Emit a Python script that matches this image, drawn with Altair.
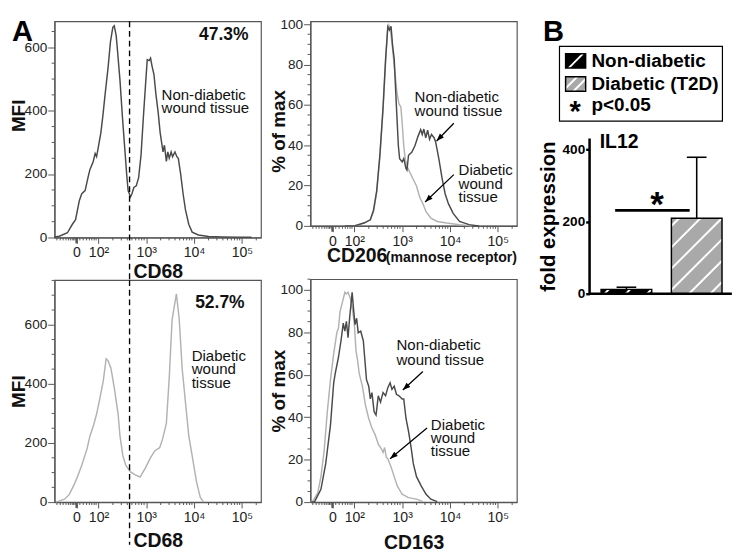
import math
import altair as alt
import pandas as pd

FONT = "Liberation Sans"
NARROW = "'Liberation Sans Narrow', 'Liberation Sans', sans-serif"
DARK = "#4a4a4a"
LIGHT = "#b2b2b2"
FRAME = "#555555"
INK = "#111111"

# ---------------- flow-cytometry x axis (biexponential display, 1 unit = 1 decade)
X_DOMAIN = [1.08, 5.40]
X_MAJOR = [1.54, 2, 3, 4, 5]
X_MAJOR_LABELS = ["0", "10²", "10³", "10⁴", "10⁵"]
X_MINOR_NEG = [1.13, 1.20, 1.26, 1.32, 1.37, 1.41, 1.45, 1.48, 1.51]
X_MINOR_LIN = [1.61, 1.68, 1.75, 1.81, 1.86, 1.91, 1.95]

# ---------------- CD68 histograms (MFI)
CD68_ND_D = [1.08, 1.18, 1.35, 1.45, 1.52, 1.60, 1.65, 1.72, 1.78, 1.82, 1.89, 1.93, 1.96, 1.99,
             2.05, 2.09, 2.14, 2.20, 2.25, 2.30, 2.33, 2.37, 2.40, 2.45, 2.50, 2.55, 2.59, 2.62,
             2.67, 2.70, 2.74, 2.79, 2.84, 2.89, 2.94, 2.99, 3.02, 3.06, 3.09, 3.12, 3.16, 3.20,
             3.25, 3.29, 3.33, 3.35, 3.38, 3.42, 3.45, 3.48, 3.52, 3.55, 3.60, 3.64, 3.67, 3.72,
             3.77, 3.82, 3.89, 3.96, 4.09, 4.30, 4.60, 4.90, 5.20]
CD68_ND_V = [2, 4, 15, 41, 56, 117, 138, 148, 189, 214, 240, 265, 255, 280,
             331, 382, 454, 535, 617, 663, 668, 637, 586, 495, 382, 280, 199, 148,
             128, 138, 158, 163, 189, 260, 382, 495, 561, 558, 566, 541, 515, 454,
             393, 331, 291, 270, 291, 240, 270, 250, 270, 255, 270, 255, 250, 199,
             138, 87, 41, 17, 8, 3, 2, 1, 1]
CD68_D_D = [1.11, 1.29, 1.39, 1.49, 1.55, 1.65, 1.76, 1.82, 1.90, 1.96, 2.02, 2.10, 2.16, 2.20,
            2.26, 2.33, 2.41, 2.45, 2.51, 2.57, 2.67, 2.77, 2.87, 2.98, 3.08, 3.18, 3.28, 3.34,
            3.42, 3.48, 3.54, 3.63, 3.69, 3.75, 3.83, 3.89, 3.95, 4.05, 4.13, 4.20]
CD68_D_V = [0, 10, 26, 59, 82, 125, 180, 223, 262, 298, 344, 410, 485, 479,
            453, 387, 298, 223, 157, 125, 102, 92, 85, 115, 148, 174, 184, 213,
            266, 420, 617, 705, 617, 453, 321, 223, 167, 69, 16, 0]

# ---------------- CD206 histograms (% of max)
CD206_ND_D = [1.8, 2.0, 2.2, 2.333, 2.4, 2.467, 2.533, 2.6, 2.653, 2.7, 2.733, 2.767, 2.8, 2.833,
              2.88, 2.92, 2.947, 3.0, 3.033, 3.08, 3.1, 3.133, 3.2, 3.267, 3.333, 3.387, 3.42,
              3.453, 3.493, 3.533, 3.573, 3.613, 3.667, 3.7, 3.767, 3.833, 3.9, 3.967, 4.067,
              4.2, 4.4, 4.6]
CD206_ND_V = [0, 0, 1.4, 3.0, 7.8, 17.4, 35, 58.9, 82.8, 98.7, 97.1, 99, 89.2, 82.8,
              58.9, 39.7, 33.3, 31.7, 33.3, 28.5, 27.7, 35, 36.5, 39.7, 44.5, 47.7, 45.3,
              48, 43.7, 47.4, 42.9, 45.3, 43.7, 41.6, 33.3, 23.8, 15.8, 11, 6.2,
              2.2, 0.6, 0]
CD206_D_D = [1.8, 2.0, 2.2, 2.333, 2.4, 2.467, 2.533, 2.6, 2.653, 2.693, 2.72, 2.753, 2.787, 2.833,
             2.887, 2.933, 2.973, 3.0, 3.033, 3.067, 3.12, 3.167, 3.233, 3.3, 3.367, 3.433, 3.5,
             3.6, 3.733, 3.933, 4.2, 4.467]
CD206_D_V = [0, 0, 1.4, 3.0, 7.0, 16.6, 34.1, 57.3, 81.2, 97.1, 99.5, 97.1, 90.7, 79.6,
             66.8, 60.4, 58.9, 50.9, 39.7, 32.5, 28.5, 26.2, 23, 19.8, 14.2, 11, 7,
             3.8, 2.2, 1.4, 0.6, 0]

# ---------------- CD163 histograms (% of max)
CD163_ND_D = [1.08, 1.167, 1.3, 1.4, 1.5, 1.567, 1.6, 1.667, 1.72, 1.767, 1.8, 1.833, 1.867, 1.9,
              1.953, 1.987, 2.013, 2.047, 2.08, 2.133, 2.187, 2.22, 2.253, 2.3, 2.333, 2.367,
              2.413, 2.453, 2.5, 2.547, 2.6, 2.653, 2.7, 2.747, 2.787, 2.833, 2.88, 2.933, 3.0,
              3.033, 3.08, 3.133, 3.187, 3.233, 3.3, 3.4, 3.5, 3.6, 3.733]
CD163_ND_V = [0, 0.2, 6, 18.1, 36.4, 56.2, 60.7, 68.3, 76, 84.3, 80.5, 85.1, 77.5, 86.6,
              98.8, 89.7, 83.6, 86.6, 79.8, 80.5, 76, 66.8, 57.7, 54.6, 48.6, 51.6,
              42.5, 41, 50.1, 47.1, 51.6, 50.1, 53.9, 56.2, 53.1, 54.6, 50.8, 50.1, 48.6,
              48.6, 39.4, 33.3, 25.7, 18.1, 12, 7.5, 3.7, 1.4, 0.2]
CD163_D_D = [1.08, 1.133, 1.233, 1.3, 1.367, 1.433, 1.5, 1.567, 1.633, 1.667, 1.7, 1.767, 1.8, 1.833,
             1.867, 1.92, 1.967, 2.0, 2.033, 2.067, 2.1, 2.167, 2.233, 2.3, 2.367, 2.433, 2.5,
             2.567, 2.6, 2.633, 2.667, 2.7, 2.767, 2.833, 2.9, 3.0, 3.133, 3.3, 3.433]
CD163_D_V = [0, 0.6, 4.4, 12, 24.2, 42.5, 57.7, 69.9, 79.8, 82, 89.7, 95.7, 98.8, 98,
             98.8, 95.7, 89.7, 83.6, 71.4, 66.8, 60.7, 54.6, 45.5, 39.4, 34.9, 31.8, 27.3,
             25, 23.4, 25.7, 21.2, 20.4, 16.6, 12, 7.5, 3.7, 2.1, 1.4, 0.2]

# ---------------- panel B: IL12 fold expression
B_GROUPS = ["Non-diabetic", "Diabetic (T2D)"]
B_MEAN = [12, 209]
B_UPPER = [18, 378]
B_SIG_LEVEL = 231

for a, b in [(CD68_ND_D, CD68_ND_V), (CD68_D_D, CD68_D_V), (CD206_ND_D, CD206_ND_V),
             (CD206_D_D, CD206_D_V), (CD163_ND_D, CD163_ND_V), (CD163_D_D, CD163_D_V)]:
    assert len(a) == len(b)

# ---------------- geometry
COL_W = 213
A1_H, A3_H = 223, 229
A2_H, A4_H = 211, 230
A1_MAX, A3_MAX, A2_MAX, A4_MAX = 682, 751, 101.4, 105
PXD = COL_W / (X_DOMAIN[1] - X_DOMAIN[0])

log_minor = [n + math.log10(k) for n in (2, 3, 4, 5) for k in range(2, 10)]
X_MINOR = sorted(set(X_MINOR_NEG + X_MINOR_LIN + [t for t in log_minor if t < X_DOMAIN[1]]))
X_LABEL_EXPR = "''"
for val, lab in reversed(list(zip(X_MAJOR, X_MAJOR_LABELS))):
    X_LABEL_EXPR = f"datum.value === {val} ? '{lab}' : ({X_LABEL_EXPR})"

ARROW = "M0,0L0.55,1.5L-0.55,1.5Z"


def xs():
    return alt.Scale(domain=X_DOMAIN, nice=False, zero=False)


def ys(ymax):
    return alt.Scale(domain=[0, ymax], nice=False, zero=False)


def X(field):
    return alt.X(f"{field}:Q", scale=xs())


def Y(field, ymax):
    return alt.Y(f"{field}:Q", scale=ys(ymax))


def hist_panel(curves, ymax, major, minor, height, ytitle, ytitle_x, xtitle=None, xtitle_y=None,
               ytitle_y=None, extras=()):
    xa = dict(values=X_MAJOR, labelExpr=X_LABEL_EXPR, grid=False, labelOverlap=False,
              labelFlush=False, tickSize=6, labelPadding=3, labelFontSize=14.5,
              labelColor="#222", labelFont=FONT, domainColor=FRAME, tickColor=FRAME,
              domainWidth=1.2)
    if xtitle:
        xa.update(title=xtitle, titleFontSize=20, titleFontWeight="bold", titleColor=INK,
                  titleBaseline="alphabetic", titleY=xtitle_y, titleFont=FONT)
    else:
        xa["title"] = None
    ya = dict(values=list(range(0, int(ymax) + 1, major)), grid=False, labelOverlap=False,
              tickSize=7, labelPadding=1, labelFontSize=14, labelColor="#222",
              labelFont=FONT, domainColor=FRAME, tickColor=FRAME, domainWidth=1.2,
              title=ytitle, titleFontSize=19.5, titleFontWeight="bold", titleColor=INK,
              titleBaseline="alphabetic", titleX=ytitle_x, titleFont=FONT)
    if ytitle_y is not None:
        ya["titleY"] = ytitle_y
    layers = []
    for i, (ds, vs, color) in enumerate(curves):
        df = pd.DataFrame({"d": ds, "v": vs})
        if i == 0:
            enc = dict(x=alt.X("d:Q", scale=xs(), axis=alt.Axis(**xa)),
                       y=alt.Y("v:Q", scale=ys(ymax), axis=alt.Axis(**ya)))
        else:
            enc = dict(x=X("d"), y=Y("v", ymax))
        layers.append(alt.Chart(df).mark_line(color=color, strokeWidth=1.5).encode(**enc))
    # minor ticks of both axes and the heavier tick at zero
    xminor = pd.DataFrame({"d": X_MINOR})
    layers.append(alt.Chart(xminor).mark_rule(color=FRAME, strokeWidth=1).encode(
        x=X("d"), y=alt.value(height), y2=alt.value(height + 3)))
    yminor = pd.DataFrame({"v": [v for v in range(0, int(ymax) + 1, minor) if v % major]})
    layers.append(alt.Chart(yminor).mark_rule(color=FRAME, strokeWidth=1).encode(
        y=Y("v", ymax), x=alt.value(0), x2=alt.value(-3)))
    zero_tick = pd.DataFrame({"d": [X_MAJOR[0]]})
    layers.append(alt.Chart(zero_tick).mark_rule(color=FRAME, strokeWidth=2.2).encode(
        x=X("d"), y=alt.value(height), y2=alt.value(height + 6)))
    layers += list(extras)
    return alt.layer(*layers).properties(width=COL_W, height=height)


def texts(rows, ymax, size=15.5, weight="normal", align="left"):
    df = pd.DataFrame(rows, columns=["d", "v", "t"])
    return alt.Chart(df).mark_text(align=align, baseline="middle", fontSize=size,
                                   fontWeight=weight, color=INK, font=FONT).encode(
        x=X("d"), y=Y("v", ymax), text="t:N")


def arrows(rows, ymax, height):
    pxv = height / ymax
    recs = []
    for d1, v1, d2, v2 in rows:
        ang = math.degrees(math.atan2((d2 - d1) * PXD, (v2 - v1) * pxv)) % 360
        recs.append(dict(d=d1, v=v1, d2=d2, v2=v2, ang=ang))
    df = pd.DataFrame(recs)
    line = alt.Chart(df).mark_rule(color="black", strokeWidth=1.3).encode(
        x=X("d"), y=Y("v", ymax), x2="d2:Q", y2="v2:Q")
    head = alt.Chart(df).mark_point(shape=ARROW, filled=True, size=110, color="black",
                                    opacity=1, strokeWidth=0).encode(
        x=X("d2"), y=Y("v2", ymax), angle=alt.Angle("ang:Q", scale=None))
    return [line, head]


def dashed(length):
    df = pd.DataFrame({"d": [2.65]})
    return alt.Chart(df).mark_rule(color="black", strokeWidth=1.4, strokeDash=[6, 4]).encode(
        x=X("d"), y=alt.value(0), y2=alt.value(length))


def corner_letter(letter, x):
    df = pd.DataFrame({"t": [letter]})
    return alt.Chart(df).mark_text(align="left", baseline="top", fontSize=30, fontWeight="bold",
                                   color="black", font=FONT).encode(
        text="t:N", x=alt.value(x), y=alt.value(-4))


# ---------------- panel A1: CD68, non-diabetic
A1 = hist_panel(
    [(CD68_ND_D, CD68_ND_V, DARK)], A1_MAX, 200, 50, A1_H, "MFI", -31, xtitle="CD68",
    xtitle_y=41, ytitle_y=97,
    extras=[dashed(267),
            texts([(4.62, 640, "47.3%")], A1_MAX, size=18, weight="bold", align="center"),
            texts([(3.32, 450, "Non-diabetic"), (3.32, 407, "wound tissue")], A1_MAX),
            corner_letter("A", -44)])

# ---------------- panel A3: CD68, diabetic
A3 = hist_panel(
    [(CD68_D_D, CD68_D_V, LIGHT)], A3_MAX, 200, 50, A3_H, "MFI", -31, xtitle="CD68",
    xtitle_y=46,
    extras=[dashed(273),
            texts([(4.54, 672, "52.7%")], A3_MAX, size=18, weight="bold", align="center"),
            texts([(3.95, 495, "Diabetic"), (3.95, 449, "wound"), (3.95, 403, "tissue")], A3_MAX)])

# ---------------- panel A2: CD206
cd206_title = [
    alt.Chart(pd.DataFrame({"t": ["CD206"]})).mark_text(
        align="left", baseline="alphabetic", fontSize=20, fontWeight="bold", color=INK, font=FONT
    ).encode(text="t:N", x=alt.value(17), y=alt.value(248)),
    alt.Chart(pd.DataFrame({"t": ["(mannose receptor)"]})).mark_text(
        align="right", baseline="alphabetic", fontSize=14.5, fontWeight="bold", color=INK, font=FONT
    ).encode(text="t:N", x=alt.value(213), y=alt.value(248)),
]
A2 = hist_panel(
    [(CD206_D_D, CD206_D_V, LIGHT), (CD206_ND_D, CD206_ND_V, DARK)], A2_MAX, 20, 5, A2_H,
    "% of max", -27, ytitle_y=113,
    extras=[texts([(3.26, 63.6, "Non-diabetic"), (3.26, 56.8, "wound tissue"),
                   (4.18, 27.8, "Diabetic"), (4.18, 20.6, "wound"), (4.18, 14.2, "tissue")],
                  A2_MAX)]
    + arrows([(4.08, 50.9, 3.72, 42.1), (4.08, 25.4, 3.48, 11.8)], A2_MAX, A2_H)
    + cd206_title)

# ---------------- panel A4: CD163
A4 = hist_panel(
    [(CD163_D_D, CD163_D_V, LIGHT), (CD163_ND_D, CD163_ND_V, DARK)], A4_MAX, 20, 5, A4_H,
    "% of max", -27, xtitle="CD163", xtitle_y=48,
    extras=[texts([(2.88, 73.7, "Non-diabetic"), (2.88, 67.1, "wound tissue"),
                   (3.6, 36.4, "Diabetic"), (3.6, 30.3, "wound"), (3.6, 23.8, "tissue")],
                  A4_MAX)]
    + arrows([(3.433, 61.5, 3.013, 52.8), (3.52, 34.9, 2.747, 20.4)], A4_MAX, A4_H))

# ---------------- panel B
B_W, B_H = 142, 281
B_U = [0.476, 2.434]
B_VMAX = 754.5
PXU = B_W / (B_U[1] - B_U[0])
PXVB = B_H / B_VMAX
BAR_HALF = 0.36
CAP_HALF = 0.14


def bx(f):
    return alt.X(f"{f}:Q", scale=alt.Scale(domain=B_U, nice=False, zero=False), axis=None)


def by(f, axis=None):
    if axis is None:
        return alt.Y(f"{f}:Q", scale=alt.Scale(domain=[0, B_VMAX], nice=False, zero=False))
    return alt.Y(f"{f}:Q", scale=alt.Scale(domain=[0, B_VMAX], nice=False, zero=False), axis=axis)


def to_px(u, v):
    return (u - B_U[0]) * PXU, (B_VMAX - v) * PXVB


def to_uv(x, y):
    return B_U[0] + x / PXU, B_VMAX - y / PXVB


def stripe_rows(u0, u1, v0, v1, step, phase):
    xl, yt = to_px(u0, v1)
    xr, yb = to_px(u1, v0)
    rows = []
    c = xl + yt + phase
    while c < xr + yb:
        xa = max(xl, c - yb)
        xb = min(xr, c - yt)
        if xb - xa > 0.8:
            ua, va = to_uv(xa, c - xa)
            ub, vb = to_uv(xb, c - xb)
            rows.append(dict(u0=ua, v0=va, u1=ub, v1=vb))
        c += step
    return rows


centers = [1.0, 2.0]
bars = pd.DataFrame({
    "g": B_GROUPS,
    "u0": [c - BAR_HALF for c in centers],
    "u1": [c + BAR_HALF for c in centers],
    "v0": [0, 0],
    "mean": B_MEAN,
    "upper": B_UPPER,
    "c": centers,
    "c0": [c - CAP_HALF for c in centers],
    "c1": [c + CAP_HALF for c in centers],
})
fill_scale = alt.Scale(domain=B_GROUPS, range=["#000000", "#a9a9a9"])

b_axis = alt.Axis(values=[0, 200, 400], domain=False, grid=False, tickSize=4, tickWidth=2.5,
                  tickColor="black", labelFontSize=14, labelFontWeight="bold", labelColor="black",
                  labelFont=NARROW, labelPadding=1, title="fold expression", titleFontSize=21,
                  titleFontWeight="bold", titleColor="black", titleFont=FONT,
                  titleBaseline="alphabetic", titleX=-36, titleY=201)

bar_fill = alt.Chart(bars).mark_rect(strokeWidth=0).encode(
    x=bx("u0"), x2="u1:Q", y=by("v0", b_axis), y2="mean:Q",
    color=alt.Color("g:N", scale=fill_scale, legend=None))

stripe_data = []
for _, r in bars.iterrows():
    stripe_data += stripe_rows(r.u0, r.u1, 0, r["mean"], 22, 8)
stripes = alt.Chart(pd.DataFrame(stripe_data)).mark_rule(color="white", strokeWidth=2).encode(
    x=bx("u0"), x2="u1:Q", y=by("v0"), y2="v1:Q")

bar_outline = alt.Chart(bars).mark_rect(fillOpacity=0, stroke="black", strokeWidth=1.5).encode(
    x=bx("u0"), x2="u1:Q", y=by("v0"), y2="mean:Q")

err_v = alt.Chart(bars).mark_rule(color="black", strokeWidth=1.6).encode(
    x=bx("c"), y=by("mean"), y2="upper:Q")
err_cap = alt.Chart(bars).mark_rule(color="black", strokeWidth=1.6).encode(
    x=bx("c0"), x2="c1:Q", y=by("upper"))

sig = pd.DataFrame({"u0": [0.84], "u1": [1.90], "v0": [B_SIG_LEVEL], "uc": [1.437], "t": ["*"]})
sig_line = alt.Chart(sig).mark_rule(color="black", strokeWidth=3).encode(
    x=bx("u0"), x2="u1:Q", y=by("v0"))
sig_star = alt.Chart(sig).mark_text(fontSize=36, fontWeight="bold", color="black", font=FONT,
                                    baseline="alphabetic", dy=6).encode(
    x=bx("uc"), y=by("v0"), text="t:N")

axis_lines = pd.DataFrame({"u0": [B_U[0], B_U[0]], "u1": [B_U[0], 2.50],
                           "v0": [0, 0], "v1": [430, 0]})
axis_rules = alt.Chart(axis_lines).mark_rule(color="black", strokeWidth=2.6).encode(
    x=bx("u0"), x2="u1:Q", y=by("v0"), y2="v1:Q")

il12 = alt.Chart(pd.DataFrame({"u0": [0.62], "v0": [420], "t": ["IL12"]})).mark_text(
    align="left", baseline="middle", fontSize=20, fontWeight="bold", color="black", font=FONT
).encode(x=bx("u0"), y=by("v0"), text="t:N")

# legend
leg_box = alt.Chart(pd.DataFrame({"u0": [0.048], "u1": [2.366], "v0": [478], "v1": [685]})).mark_rect(
    fill="white", stroke="black", strokeWidth=1.2).encode(x=bx("u0"), x2="u1:Q", y=by("v0"), y2="v1:Q")
sw = pd.DataFrame({"g": B_GROUPS, "u0": [0.135, 0.135], "u1": [0.42, 0.42],
                   "v0": [625, 561], "v1": [665, 601]})
sw_fill = alt.Chart(sw).mark_rect(strokeWidth=0).encode(
    x=bx("u0"), x2="u1:Q", y=by("v0"), y2="v1:Q",
    color=alt.Color("g:N", scale=fill_scale, legend=None))
sw_stripes = []
r0 = sw.iloc[0]
sw_stripes += stripe_rows(r0.u0, r0.u1, r0.v0, r0.v1, 100, 18)
r1 = sw.iloc[1]
sw_stripes += stripe_rows(r1.u0, r1.u1, r1.v0, r1.v1, 11, 12)
sw_str = alt.Chart(pd.DataFrame(sw_stripes)).mark_rule(color="white", strokeWidth=2).encode(
    x=bx("u0"), x2="u1:Q", y=by("v0"), y2="v1:Q")
sw_out = alt.Chart(sw).mark_rect(fillOpacity=0, stroke="black", strokeWidth=1.5).encode(
    x=bx("u0"), x2="u1:Q", y=by("v0"), y2="v1:Q")
leg_txt = alt.Chart(pd.DataFrame({"u0": [0.503] * 3, "v0": [644, 580, 521],
                                  "t": B_GROUPS + ["p<0.05"]})).mark_text(
    align="left", baseline="middle", fontSize=19.5, fontWeight="bold", color="black", font=FONT
).encode(x=bx("u0"), y=by("v0"), text="t:N")
leg_star = alt.Chart(pd.DataFrame({"u0": [0.27], "v0": [521], "t": ["*"]})).mark_text(
    align="center", baseline="alphabetic", dy=16, fontSize=30, fontWeight="bold", color="black",
    font=FONT).encode(x=bx("u0"), y=by("v0"), text="t:N")

B = alt.layer(bar_fill, stripes, bar_outline, err_v, err_cap, sig_line, sig_star, axis_rules,
              il12, leg_box, sw_fill, sw_str, sw_out, leg_txt, leg_star,
              corner_letter("B", -48)).properties(
    width=B_W, height=B_H, view=alt.ViewBackground(stroke="transparent"))

col1 = alt.vconcat(A1, A3, spacing=44, bounds="flush")
col2 = alt.vconcat(A2, A4, spacing=55, bounds="flush")
left = alt.hconcat(col1, col2, spacing=6)
chart = alt.hconcat(left, B, spacing=20).properties(
    padding=0, background="white"
).configure_view(stroke=FRAME, strokeWidth=1.2).configure_text(font=FONT)

chart.save("out.html", embed_options={"renderer": "svg", "actions": False})
